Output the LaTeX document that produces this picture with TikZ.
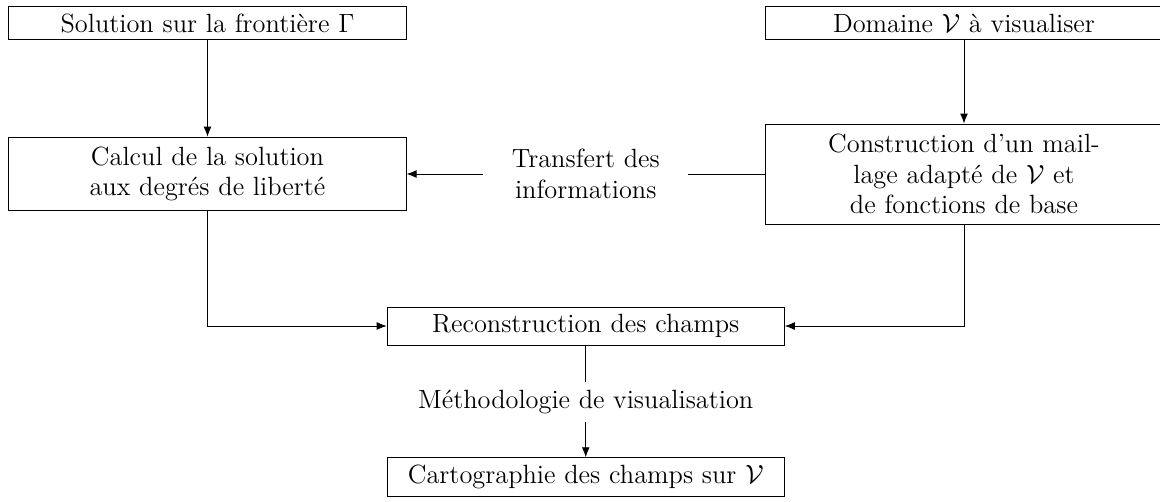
\documentclass[tikz,border=0pt]{standalone}
\usepackage{fontspec}
\usetikzlibrary{arrows.meta}
\begin{document}
\begin{tikzpicture}[>={Latex[length=1.6mm,width=1.25mm]}, every node/.style={font=\large},
  etape/.style={draw, text width=6.12cm, align=center}]
  \useasboundingbox (0,0) rectangle (18.56,8.016);
  \node[etape] (frontiere) at (3.32,7.648) {Solution sur la frontière $\Gamma$};
  \node[etape, minimum height=1.18cm] (calcul) at (3.32,5.232) {Calcul de la solution\\aux degrés de liberté};
  \node[etape] (domaine) at (15.424,7.648) {Domaine $\mathcal{V}$ à visualiser};
  \node[etape, minimum height=1.6cm] (maillage) at (15.424,5.232) {Construction d'un mail-\\lage adapté de $\mathcal{V}$ et\\de fonctions de base};
  \node[align=center, inner xsep=0.45cm] (transfert) at (9.372,5.232) {Transfert des\\informations};
  \node[etape] (reconstruction) at (9.372,2.8) {Reconstruction des champs};
  \node (methodo) at (9.372,1.584) {Méthodologie de visualisation};
  \node[etape] (carto) at (9.372,0.384) {Cartographie des champs sur $\mathcal{V}$};
  \draw[->] (frontiere) -- (calcul);
  \draw[->] (domaine) -- (maillage);
  \draw[->] (transfert) -- (calcul);
  \draw (maillage) -- (transfert);
  \draw[->] (calcul) |- (reconstruction);
  \draw[->] (maillage) |- (reconstruction);
  \draw (reconstruction) -- (methodo);
  \draw[->] (methodo) -- (carto);
\end{tikzpicture}
\end{document}
